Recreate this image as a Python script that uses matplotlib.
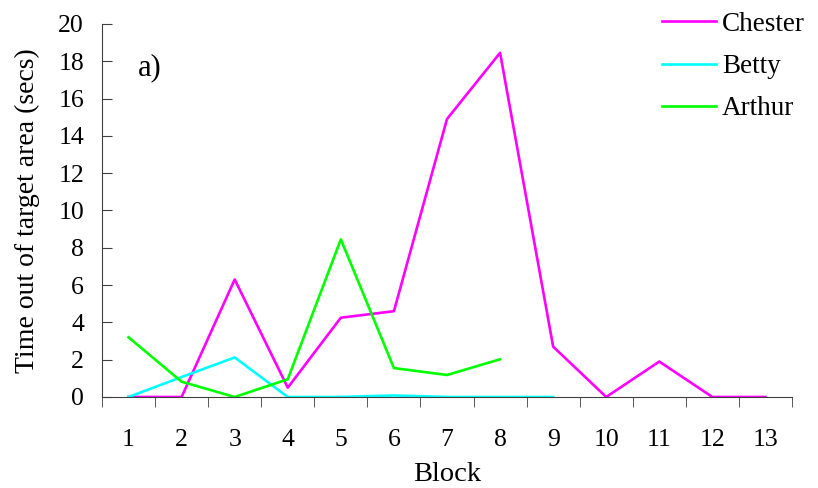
import numpy as np
import matplotlib.pyplot as plt

plt.rcParams['font.family'] = ['Liberation Serif', 'DejaVu Serif']

# Temps hors de la zone cible, par bloc
blocs = list(range(1, 14))
chester = [0, 0, 6.3, 0.5, 4.25, 4.6, 14.9, 18.45, 2.7, 0, 1.9, 0, 0]
betty = [0, 1.07, 2.12, 0, 0, 0.08, 0, 0, 0]
arthur = [3.2, 0.82, 0, 0.95, 8.45, 1.55, 1.18, 2.02]

fig = plt.figure(figsize=(8.18, 4.88), dpi=100)
ax = fig.add_axes([0.1247, 0.1865, 0.8435, 0.7645])

ax.plot(blocs, chester, color='#FF00FF', lw=1.9, label='Chester')
ax.plot(blocs[:len(betty)], betty, color='#00FFFF', lw=1.9, label='Betty')
ax.plot(blocs[:len(arthur)], arthur, color='#00FF00', lw=1.9, label='Arthur')

ax.set_xlim(0.5, 13.5)
ax.set_ylim(0, 20)
ax.set_yticks(np.arange(0, 21, 2))
ax.set_xticks(blocs)
ax.set_xticks(np.arange(0.5, 14, 1), minor=True)
ax.tick_params(axis='x', which='major', length=0, pad=23, labelsize=18.5)
ax.tick_params(axis='x', which='minor', length=7, direction='out', color='#404040')
ax.tick_params(axis='y', length=7, direction='in', color='#404040', labelsize=18.5, pad=13)

for s in ['top', 'right']:
    ax.spines[s].set_visible(False)
for s in ['left', 'bottom']:
    ax.spines[s].set_color('#404040')

ax.set_xlabel('Block', fontsize=20.5, labelpad=8)
ax.set_ylabel('Time out of target area (secs)', fontsize=20, labelpad=13)
ax.text(0.052, 0.862, 'a)', transform=ax.transAxes, fontsize=22)

leg = fig.legend(loc='upper left', bbox_to_anchor=(0.809, 0.976), frameon=False,
                 fontsize=19.5, handlelength=2.0, handletextpad=0.22,
                 labelspacing=0.64, borderpad=0, borderaxespad=0)

fig.savefig('out.png', dpi=100)
